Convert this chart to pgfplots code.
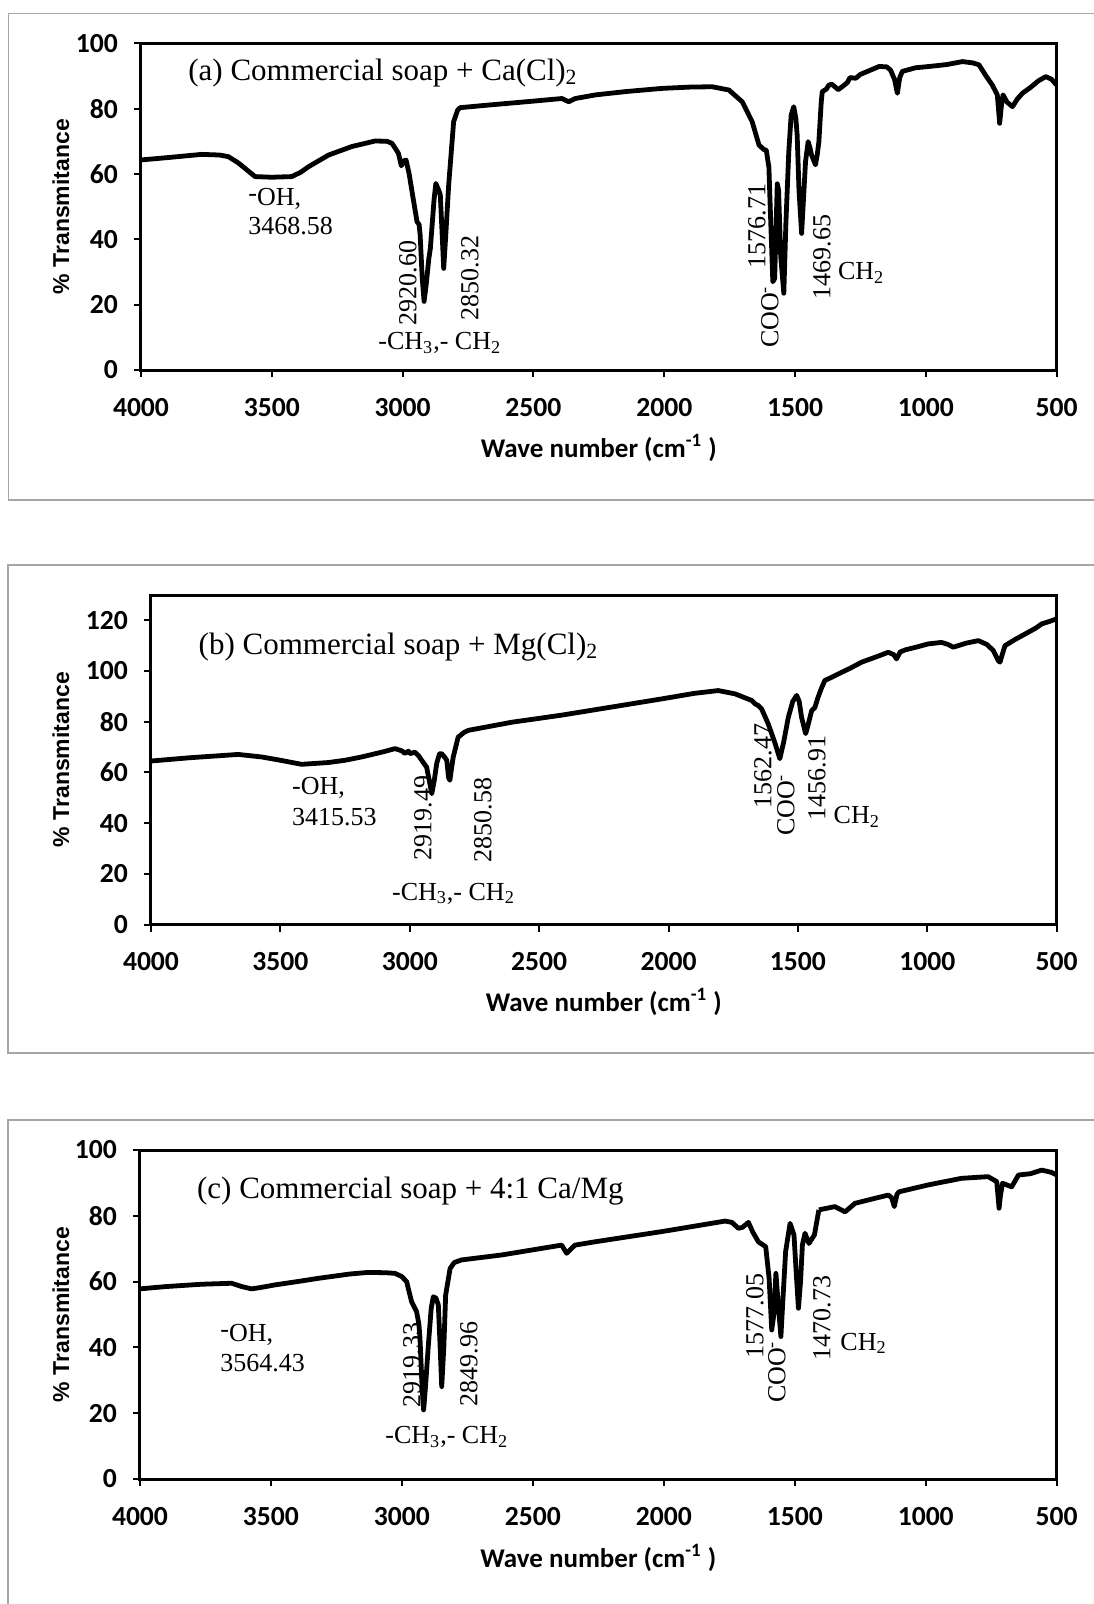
\documentclass[border=0pt]{standalone}
\usepackage{pgfplots}
\pgfplotsset{compat=1.18}
\usepackage{fontspec}
\setmainfont{Liberation Serif}
\newfontfamily\carlito{Carlito}
\newfontfamily\arialf{Liberation Sans}

\pgfplotsset{
  irstyle/.style={
    scale only axis,
    x dir=reverse,
    xmin=500, xmax=4000,
    xtick={500,1000,...,4000},
    ymin=0,
    axis line style={line width=1.5pt},
    tick style={line width=1pt, black},
    major tick length=3.5pt,
    tick align=outside,
    xtick pos=bottom, ytick pos=left,
    /pgf/number format/1000 sep={},
    /pgf/number format/assume math mode=true,
    ticklabel style={font=\fontsize{13.8}{16}\selectfont\carlito\bfseries},
    xticklabel style={yshift=-7pt},
    yticklabel style={xshift=-4.5pt},
    xlabel={Wave number (cm\textsuperscript{-1} )},
    ylabel={\% Transmitance},
    xlabel style={font=\fontsize{13.5}{16}\selectfont\carlito\bfseries, anchor=center},
    ylabel style={font=\fontsize{11.5}{14}\selectfont\arialf\bfseries, anchor=center},
    every axis plot post/.append style={line width=2.4pt, line join=round, black, mark=none},
  }
}

\begin{document}
\begin{tikzpicture}
\begin{scope}[x=0.5pt,y=-0.5pt]
\path[use as bounding box] (0,0) rectangle (1093,1604);
\draw[gray!70, line width=0.7pt] (1110,13.5) -- (8.4,13.5) -- (8.4,500) -- (1110,500);
\draw[gray!70, line width=0.7pt] (1110,565) -- (8,565) -- (8,1053) -- (1110,1053);
\draw[gray!70, line width=0.7pt] (1110,1120) -- (8,1120) -- (8,1620);
\end{scope}

% ---------- (a) ----------
\begin{axis}[irstyle,
  at={(70.5pt,-185pt)}, anchor=south west,
  width=457.85pt, height=163.35pt,
  ymax=100, ytick={0,20,...,100},
  xlabel style={at={(axis description cs:0.5,-0.239)}},
  ylabel style={at={(axis description cs:-0.0874,0.5)}},
]
\addplot table {
4000 64.3
3900 65.0
3768 66.0
3700 65.8
3666 65.3
3630 63.5
3602 61.7
3564 59.2
3500 59.0
3424 59.2
3390 60.5
3360 62.2
3283 65.8
3194 68.4
3105 70.1
3060 70.0
3041 69.4
3025 67.5
3016 66.3
3005 62.5
2995 64.0
2987 64.3
2975 60
2964 54.6
2945 45.4
2937 44.5
2933 41.3
2925 28
2918 21
2910 26
2900 34
2894 37.2
2880 52
2873 57.1
2862 55
2856 53.6
2848 40
2843 31.1
2836 40
2824 56.6
2805 76.0
2790 79.5
2780 80.3
2671 81.1
2500 82.3
2391 83.1
2365 82.1
2340 83.1
2263 84.2
2150 85.2
2008 86.2
1900 86.6
1817 86.7
1753 85.7
1702 82.1
1664 76.0
1638 68.9
1620 67.5
1610 67.3
1600 62
1595 50
1585 27.0
1578 28
1572 45
1568 57
1563 55
1555 35
1543 23.5
1535 45
1524 66.8
1515 78
1505 80.6
1497 77
1492 71.9
1485 55
1475 41.8
1468 52
1460 63.8
1450 69.9
1443 68
1437 65.8
1422 62.8
1415 66
1409 69.9
1400 82
1396 85.2
1380 86
1371 87.2
1360 87.5
1345 86.5
1335 85.8
1320 86.7
1300 88
1290 89.5
1268 89.3
1250 90.5
1220 91.5
1179 92.9
1150 92.8
1135 91.8
1120 89
1109 84.7
1100 89.5
1090 91.4
1040 92.5
988 92.9
920 93.5
860 94.4
820 94.0
797 93.4
770 90
746 87.2
727 84.2
718 75.5
710 82
705 84.2
690 82
669 80.6
650 83
631 84.7
600 86.5
570 88.5
542 89.8
520 89
500 87.2
};
\end{axis}

% ---------- (b) ----------
\begin{axis}[irstyle,
  at={(75.5pt,-462.25pt)}, anchor=south west,
  width=452.85pt, height=164.75pt,
  ymax=130, ytick={0,20,...,120},
  xlabel style={at={(axis description cs:0.5,-0.235)}},
  ylabel style={at={(axis description cs:-0.0994,0.5)}},
]
\addplot table {
4000 64.5
3850 65.8
3663 67.1
3572 66.1
3500 64.8
3418 63.2
3315 63.9
3250 64.8
3186 66.1
3100 68.2
3057 69.4
3030 68.5
3019 67.5
3005 68.4
2999 67.4
2980 68
2965 66.5
2954 64.8
2935 62.1
2925 57
2915 51.6
2905 57
2896 63.5
2885 67.4
2877 67.4
2865 66
2857 64.8
2850 58
2845 56.9
2838 62
2832 66.1
2813 73.9
2790 75.8
2774 76.6
2606 79.8
2413 82.6
2250 85.3
2027 89.0
1900 91.2
1808 92.3
1743 91.0
1679 88.4
1665 87.0
1653 86.4
1640 85
1615 79.2
1590 72
1570 65.4
1555 72
1537 81.8
1520 88
1505 90.4
1495 88
1486 81.8
1470 75.3
1460 79
1447 84.4
1435 85.5
1422 89.7
1410 93
1396 96.3
1370 97.5
1331 99.5
1300 101
1254 103.5
1200 105.5
1151 107.4
1130 106.5
1119 104.8
1105 107.5
1087 108.3
1040 109.5
997 110.7
945 111.3
920 110.5
900 109.4
850 111
803 112.0
770 110.5
745 108.1
725 104
719 103.5
712 106
700 110.0
660 112.5
610 115.3
580 117
558 118.6
530 119.5
500 120.6
};
\end{axis}

% ---------- (c) ----------
\begin{axis}[irstyle,
  at={(70pt,-739.5pt)}, anchor=south west,
  width=458.35pt, height=164.5pt,
  ymax=100, ytick={0,20,...,100},
  xlabel style={at={(axis description cs:0.5,-0.240)}},
  ylabel style={at={(axis description cs:-0.0862,0.5)}},
]
\addplot table {
4000 57.8
3900 58.5
3765 59.2
3650 59.5
3612 58.5
3574 57.8
3540 58.2
3485 59.0
3400 60
3319 61.0
3200 62.3
3128 62.8
3060 62.7
3026 62.5
3000 61.5
2982 60.0
2963 53.9
2944 50.9
2935 47
2931 42.8
2923 28
2917 21.0
2910 28
2899 40.7
2888 52
2880 55.4
2870 55
2861 52.9
2855 42
2848 28.1
2840 40
2833 55.9
2816 64.0
2800 65.8
2772 66.6
2619 68.1
2390 71.1
2371 68.6
2339 71.1
2263 72.1
2008 75.2
1766 78.4
1740 78.0
1715 76.2
1700 76.5
1677 78.0
1660 75
1639 72.1
1611 70.6
1598 61.0
1588 45.3
1580 50
1572 62.5
1565 55
1553 43.3
1545 55
1535 69.1
1518 77.7
1503 74.2
1494 62
1486 51.9
1478 60
1471 71.1
1461 74.7
1446 71.6
1425 74.2
1408 81.8
};
\addplot[line width=3.4pt] table {
1408 81.8
1347 82.8
1308 81.2
1270 83.8
1200 85.2
1143 86.3
1130 85.5
1120 82.8
1110 86.5
1102 87.3
990 89.4
863 91.4
762 91.9
729 90.4
720 82.3
715 86
707 89.9
672 88.8
646 92.4
600 92.8
557 93.9
520 93.2
500 92.4
};
\end{axis}

% ---------- annotations ----------
\begin{scope}[x=0.5pt,y=-0.5pt, every node/.style={inner sep=0pt, font=\fontsize{13}{15}\selectfont}]
% (a)
\node[anchor=base west, font=\fontsize{15.5}{18}\selectfont] at (188,80.5) {(a) Commercial soap + Ca(Cl)\textsubscript{2}};
\node[anchor=base west] at (248,205.7) {\raisebox{0.35ex}{-}OH,};
\node[anchor=base west] at (248,235) {3468.58};
\node[rotate=90] at (408,283) {2920.60};
\node[rotate=90] at (470,278) {2850.32};
\node[anchor=base west] at (378,350) {-CH\textsubscript{3},- CH\textsubscript{2}};
\node[rotate=90] at (757,226) {1576.71};
\node[rotate=90] at (770,317) {COO\textsuperscript{-}};
\node[rotate=90] at (822,257) {1469.65};
\node[anchor=base west] at (837.7,280) {CH\textsubscript{2}};
% (b)
\node[anchor=base west, font=\fontsize{15.5}{18}\selectfont] at (198.3,654) {(b) Commercial soap + Mg(Cl)\textsubscript{2}};
\node[anchor=base west] at (291.7,794) {-OH,};
\node[anchor=base west] at (291.7,825) {3415.53};
\node[rotate=90] at (423,818) {2919.49};
\node[rotate=90] at (483,820) {2850.58};
\node[anchor=base west] at (391.7,900) {-CH\textsubscript{3},- CH\textsubscript{2}};
\node[rotate=90] at (763,766) {1562.47};
\node[rotate=90] at (786,805) {COO\textsuperscript{-}};
\node[rotate=90] at (817,778) {1456.91};
\node[anchor=base west] at (833.3,823.3) {CH\textsubscript{2}};
% (c)
\node[anchor=base west, font=\fontsize{15.5}{18}\selectfont] at (196.7,1198.3) {(c) Commercial soap + 4:1 Ca/Mg};
\node[anchor=base west] at (220,1341.7) {\raisebox{0.35ex}{-}OH,};
\node[anchor=base west] at (220,1371.7) {3564.43};
\node[rotate=90] at (412,1365) {2919.33};
\node[rotate=90] at (469,1364) {2849.96};
\node[anchor=base west] at (385,1443.3) {-CH\textsubscript{3},- CH\textsubscript{2}};
\node[rotate=90] at (755,1316) {1577.05};
\node[rotate=90] at (777,1372) {COO\textsuperscript{-}};
\node[rotate=90] at (822,1318) {1470.73};
\node[anchor=base west] at (840,1350) {CH\textsubscript{2}};
\end{scope}
\end{tikzpicture}
\end{document}
